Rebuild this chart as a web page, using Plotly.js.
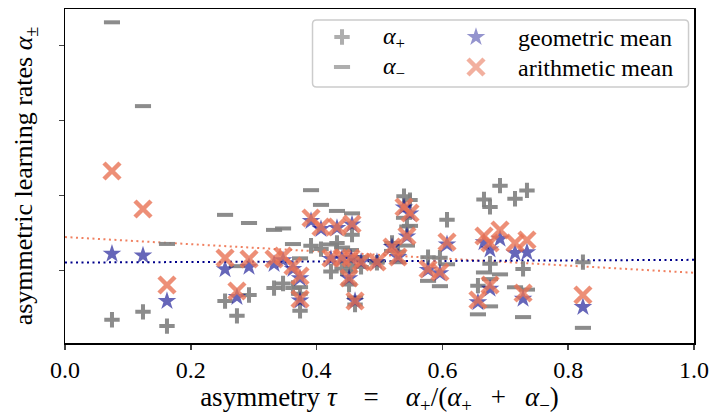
<!DOCTYPE html>
<html>
<head>
<meta charset="utf-8">
<script src="https://cdn.plot.ly/plotly-3.0.1.min.js"></script>
<style>html,body{margin:0;padding:0;background:#fff;}#chart{width:709px;height:416px;}</style>
</head>
<body>
<div id="chart"></div>
<script>
const alphaPlus = [0.0869,0.1129,0.0656,0.1487,0.0997,0.1690,0.1920,0.2072,0.1925,0.1736,
  0.1164,0.3327,0.3218,0.3419,0.3699,0.2471,0.2574,0.2657,0.2625,0.2038,
  0.1375,0.2766,0.3419,0.3129,0.4979,0.4848,0.3973,0.2950,0.2928,0.4196,
  0.4868,0.4623,0.5330,0.4895,0.5172,0.2734,0.2001,0.2559,0.2784];
const alphaMinus = [1.0765,0.7976,0.3390,0.4357,0.2650,0.4087,0.3857,0.3905,0.3386,0.2910,
  0.1951,0.5179,0.4689,0.4488,0.4407,0.3373,0.3270,0.3187,0.2952,0.2475,
  0.1607,0.2811,0.3157,0.2781,0.4259,0.3991,0.3335,0.2161,0.1984,0.2713,
  0.2440,0.2219,0.2377,0.1947,0.1870,0.1312,0.1047,0.0955,0.0597];
// fitted trend lines (endpoints)
const trendTau = [0, 1];
const geoTrend = [0.277, 0.286];
const arithTrend = [0.362, 0.243];
const xTicks = [0, 0.2, 0.4, 0.6, 0.8, 1.0];
const xTickText = ['0.0','0.2','0.4','0.6','0.8','1.0'];
const yTicks = [0.25, 0.5, 0.75, 1.0];
// legend entries
const legendLabels = ['<i>α</i><sub>+</sub>', '<i>α</i><sub>−</sub>', 'geometric mean', 'arithmetic mean'];

const tau = alphaPlus.map((p,i)=>p/(p+alphaMinus[i]));
const geoMean = alphaPlus.map((p,i)=>Math.sqrt(p*alphaMinus[i]));
const arithMean = alphaPlus.map((p,i)=>(p+alphaMinus[i])/2);

const serif = 'Liberation Serif, Times New Roman, serif';
const gray = 'rgba(128,128,128,0.9)';
const starCol = 'rgba(0,0,139,0.6)';
const salmon = 'rgba(233,115,85,0.8)';

const styles = [
  {symbol:'cross-thin', size:11, color:gray, lw:4},
  {symbol:'line-ew', size:11.5, color:gray, lw:4},
  {symbol:'star', size:14, color:starCol, lw:0},
  {symbol:'x-thin', size:16, color:salmon, lw:4.5}
];
const mk = s => ({symbol:s.symbol, size:s.size, color:s.color, line:{color:s.color, width:s.lw}});

const traces = [
  {x: trendTau, y: arithTrend, mode:'lines', line:{color:'#f08060', dash:'2px,3.5px', width:2}, hoverinfo:'skip'},
  {x: trendTau, y: geoTrend, mode:'lines', line:{color:'#00008b', dash:'2px,3.5px', width:2}, hoverinfo:'skip'},
  {x: tau, y: alphaPlus, mode:'markers', marker:mk(styles[0])},
  {x: tau, y: alphaMinus, mode:'markers', marker:mk(styles[1])},
  {x: tau, y: geoMean, mode:'markers', marker:mk(styles[2])},
  {x: tau, y: arithMean, mode:'markers', marker:mk(styles[3])}
];

// legend layout (paper fractions of the plot area)
const legSymX = [0.4404, 0.4404, 0.6534, 0.6534];
const legTextX = [0.5024, 0.5024, 0.717, 0.717];
const legRowY = [0.9162, 0.8264, 0.9162, 0.8264];
traces.push({x: legSymX, y: legRowY, xaxis:'x2', yaxis:'y2', mode:'markers', hoverinfo:'skip',
  marker:{symbol:styles.map(s=>s.symbol), size:styles.map(s=>s.size), color:styles.map(s=>s.color),
    line:{color:styles.map(s=>s.color), width:styles.map(s=>s.lw)}}});

const annotations = legendLabels.map((t,i)=>({xref:'paper', yref:'paper', x:legTextX[i], y:legRowY[i]-0.002,
  xanchor:'left', yanchor:'middle', showarrow:false, text:t, font:{family:serif, size:24, color:'#000'}}));

// legend frame (rounded rectangle in paper coordinates)
const bx0 = 0.3935, bx1 = 0.9913, by0 = 0.7665, by1 = 0.967, rx = 0.0064, ry = 0.012;
const framePath = `M ${bx0+rx},${by1} L ${bx1-rx},${by1} Q ${bx1},${by1} ${bx1},${by1-ry} L ${bx1},${by0+ry} Q ${bx1},${by0} ${bx1-rx},${by0} L ${bx0+rx},${by0} Q ${bx0},${by0} ${bx0},${by0+ry} L ${bx0},${by1-ry} Q ${bx0},${by1} ${bx0+rx},${by1} Z`;

const layout = {
  width:709, height:416,
  margin:{l:65, r:15, t:9, b:73},
  paper_bgcolor:'#fff', plot_bgcolor:'#fff',
  font:{family:serif, color:'#000', size:24},
  showlegend:false,
  annotations: annotations,
  shapes:[{type:'path', xref:'paper', yref:'paper', path:framePath,
    fillcolor:'rgba(255,255,255,0.8)', line:{color:'#cccccc', width:1.5}, layer:'below'}],
  xaxis:{range:[0,1], tickvals:xTicks, ticktext:xTickText, ticks:'outside', ticklen:5, tickwidth:1.5,
    showline:true, linecolor:'#000', linewidth:1.5, mirror:true, showgrid:false, zeroline:false,
    tickfont:{family:serif, size:24},
    title:{text:'asymmetry <i>τ</i>\u2003=\u2003<i>α</i><sub>+</sub>/(<i>α</i><sub>+</sub>\u2002\u2009+\u2002\u2009<i>α</i><sub>−</sub>)', font:{family:serif, size:27}, standoff:9}},
  yaxis:{range:[0.0093,1.1208], tickvals:yTicks, showticklabels:false, ticks:'outside', ticklen:5, tickwidth:1.5,
    showline:true, linecolor:'#000', linewidth:1.5, mirror:true, showgrid:false, zeroline:false,
    title:{text:'asymmetric learning rates <i>α</i><sub>±</sub>', font:{family:serif, size:26}, standoff:18}},
  xaxis2:{overlaying:'x', range:[0,1], visible:false, fixedrange:true},
  yaxis2:{overlaying:'y', range:[0,1], visible:false, fixedrange:true}
};

Plotly.newPlot('chart', traces, layout, {displayModeBar:false, staticPlot:true});
</script>
</body>
</html>
